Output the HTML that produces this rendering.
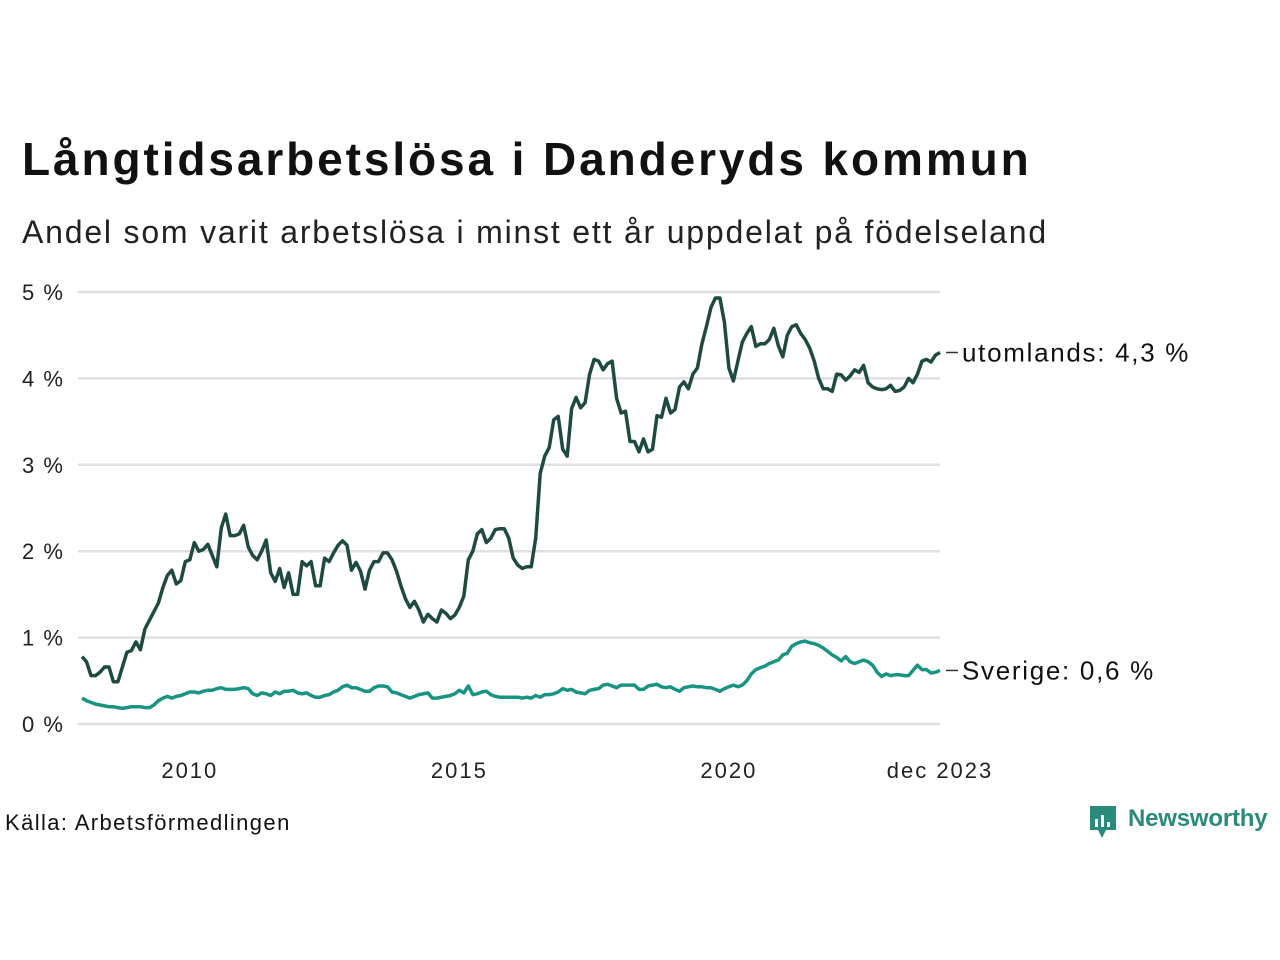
<!DOCTYPE html>
<html><head><meta charset="utf-8"><style>
body{margin:0;background:#fff;font-family:"Liberation Sans","DejaVu Sans",sans-serif;}
#wrap{position:relative;width:1280px;height:960px;overflow:hidden;}
.t{position:absolute;white-space:nowrap;color:#111;}
</style></head><body>
<div id="wrap">
<div class="t" style="left:22px;top:132px;font-size:46px;font-weight:bold;letter-spacing:2.9px;">Långtidsarbetslösa i Danderyds kommun</div>
<div class="t" style="left:22px;top:214px;font-size:32px;color:#222;letter-spacing:1.8px;">Andel som varit arbetslösa i minst ett år uppdelat på födelseland</div>
<svg id="chart" width="1280" height="960" style="position:absolute;left:0;top:0"></svg>
<div class="t" style="left:5px;top:810px;font-size:22px;letter-spacing:1.4px;">Källa: Arbetsförmedlingen</div>
<div style="position:absolute;left:1088px;top:804px;">
<svg width="30" height="36" style="position:absolute;left:0;top:0"><path d="M2 2h26v24H18l-4 8-4-8H2z" fill="#2a8a7c"/><rect x="7" y="15" width="3" height="8" fill="#fff"/><rect x="13" y="11" width="3" height="12" fill="#fff"/><rect x="19" y="18" width="3" height="5" fill="#fff"/></svg>
<div class="t" style="left:40px;top:1px;font-size:24px;font-weight:bold;color:#2a8a7c;letter-spacing:-0.2px;">Newsworthy</div>
</div>
</div>
<script>
const yTicks=[0,1,2,3,4,5];
const yTickLabels=["0 %","1 %","2 %","3 %","4 %","5 %"];
const xTickIdx=[24,84,144,191];
const xTickLabels=["2010","2015","2020","dec 2023"];
const utomlands=[
.78,.72,.56,.56,.6,.66,.66,.49,.49,.66,.83,.85,
.95,.86,1.1,1.2,1.3,1.4,1.58,1.72,1.78,1.62,1.66,1.88,
1.9,2.1,2.0,2.02,2.08,1.95,1.82,2.27,2.43,2.18,2.18,2.2,
2.3,2.05,1.95,1.9,2.0,2.13,1.75,1.65,1.8,1.58,1.75,1.5,
1.5,1.88,1.83,1.88,1.6,1.6,1.92,1.88,1.98,2.07,2.12,2.07,
1.78,1.87,1.77,1.56,1.78,1.88,1.88,1.98,1.98,1.9,1.77,1.6,
1.45,1.35,1.42,1.32,1.18,1.27,1.22,1.18,1.32,1.28,1.22,1.26,
1.35,1.48,1.9,2.0,2.2,2.25,2.1,2.15,2.25,2.26,2.26,2.15,
1.92,1.84,1.8,1.82,1.82,2.15,2.9,3.1,3.2,3.52,3.56,3.18,
3.1,3.65,3.78,3.66,3.72,4.05,4.22,4.2,4.1,4.17,4.2,3.77,
3.6,3.62,3.27,3.27,3.15,3.3,3.15,3.18,3.57,3.55,3.77,3.6,
3.64,3.9,3.96,3.88,4.05,4.12,4.4,4.6,4.82,4.93,4.93,4.65,
4.12,3.97,4.2,4.42,4.52,4.6,4.37,4.4,4.4,4.45,4.58,4.38,
4.25,4.5,4.6,4.62,4.52,4.45,4.35,4.2,4.0,3.88,3.88,3.85,
4.05,4.04,3.98,4.03,4.1,4.07,4.15,3.95,3.9,3.88,3.87,3.88,
3.92,3.85,3.86,3.9,4.0,3.95,4.05,4.2,4.22,4.19,4.27,4.3];
const sverige=[
.30,.27,.25,.23,.22,.21,.2,.2,.19,.18,.19,.2,
.2,.2,.19,.19,.22,.27,.3,.32,.3,.32,.33,.35,
.37,.37,.36,.38,.39,.39,.41,.42,.4,.4,.4,.41,
.42,.41,.35,.33,.36,.35,.33,.37,.35,.38,.38,.39,
.36,.35,.36,.33,.31,.31,.33,.34,.37,.39,.43,.45,
.42,.42,.4,.38,.38,.42,.44,.44,.43,.37,.36,.34,
.32,.3,.32,.34,.35,.36,.3,.3,.31,.32,.33,.35,
.39,.36,.44,.34,.35,.37,.38,.34,.32,.31,.31,.31,
.31,.31,.3,.31,.3,.33,.31,.34,.34,.35,.37,.41,
.39,.4,.37,.36,.35,.39,.4,.41,.45,.46,.44,.42,
.45,.45,.45,.45,.4,.4,.44,.45,.46,.43,.42,.43,
.4,.38,.42,.43,.44,.43,.43,.42,.42,.4,.38,.41,
.43,.45,.43,.45,.5,.58,.63,.65,.67,.7,.72,.74,
.8,.82,.9,.93,.95,.96,.94,.93,.91,.88,.84,.8,
.77,.73,.78,.72,.7,.72,.74,.72,.68,.6,.55,.58,
.56,.57,.57,.56,.56,.62,.68,.63,.63,.59,.6,.62];
const seriesNames=["utomlands: 4,3 %","Sverige: 0,6 %"];
const NS="http://www.w3.org/2000/svg";
const svg=document.getElementById('chart');
const X0=82,X1=940,Y0=724,PER=86.4;
const xs=i=>X0+(X1-X0)*i/191;
const ys=v=>Y0-v*PER;
function mk(t,a){const e=document.createElementNS(NS,t);for(const k in a)e.setAttribute(k,a[k]);svg.appendChild(e);return e;}
yTicks.forEach((v,k)=>{
 const l=mk('line',{x1:78,x2:940,y1:ys(v),y2:ys(v),stroke:'#e0e0e4','stroke-width':2.5});
 
 
 const t=mk('text',{x:22,y:ys(v)+8,'font-size':22,fill:'#222','font-family':'Liberation Sans, sans-serif','letter-spacing':1.5});
 t.textContent=yTickLabels[k];
 
 
});
xTickIdx.forEach((i,k)=>{
 const t=mk('text',{x:xs(i),y:778,'font-size':22,fill:'#222','text-anchor':'middle','font-family':'Liberation Sans, sans-serif','letter-spacing':2});
 t.textContent=xTickLabels[k];
 
 
});
function line(data,color,name){
 const d=data.map((v,i)=>(i?'L':'M')+xs(i).toFixed(1)+' '+ys(v).toFixed(1)).join(' ');
 const p=mk('path',{d:d,fill:'none',stroke:color,'stroke-width':3.5,'stroke-linejoin':'round'});
 
 
}
line(sverige,'#1a9482','line-sverige');
line(utomlands,'#1f4a42','line-utomlands');
[[utomlands,seriesNames[0]],[sverige,seriesNames[1]]].forEach(([d,n],k)=>{
 const y=ys(d[d.length-1]);
 const l=mk('line',{x1:946,x2:958,y1:y,y2:y,stroke:'#333','stroke-width':1.5});
 
 
 const t=mk('text',{x:962,y:y+9,'font-size':26,fill:'#111','font-family':'Liberation Sans, sans-serif','letter-spacing':1.7});
 t.textContent=n;
 
 
});
</script>
</body></html>
